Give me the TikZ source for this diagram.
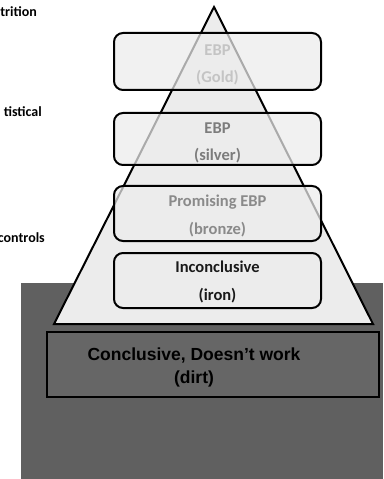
\documentclass[tikz,border=0pt]{standalone}
\usepackage{fontspec}
\setmainfont{Carlito}
\newfontfamily\arialfont{Liberation Sans}
\definecolor{bgdark}{HTML}{606060}
\definecolor{dirtfill}{HTML}{666666}
\definecolor{pyrfill}{HTML}{ECECEC}
\definecolor{goldtxt}{HTML}{C4C4C4}
\definecolor{silvertxt}{HTML}{7C7C7C}
\definecolor{bronzetxt}{HTML}{8A8A8A}
\definecolor{irontxt}{HTML}{1A1A1A}
\tikzset{
  tier/.style={draw=black, line width=2bp, rounded corners=9bp, fill=pyrfill,
    fill opacity=0.72, draw opacity=1, inner sep=0pt,
    minimum width=207bp, minimum height=#1},
  tiertext/.style={align=center, inner sep=0pt,
    font=\fontsize{16.5bp}{27.5bp}\selectfont\bfseries},
  sidelabel/.style={anchor=base east, inner sep=0pt,
    font=\fontsize{14bp}{16bp}\selectfont\bfseries},
  dirtbox/.style={draw=black, line width=2.5bp, fill=dirtfill, inner sep=0pt,
    minimum width=332bp, minimum height=65bp},
  dirttext/.style={align=center, inner sep=0pt, text=black,
    font=\arialfont\fontsize{17.5bp}{23bp}\selectfont\bfseries}
}
\begin{document}
\begin{tikzpicture}[x=1bp,y=-1bp]
\useasboundingbox (0,0) rectangle (383,479);
\clip (0,0) rectangle (383,479);
% dark ground
\fill[bgdark] (21,283) rectangle (383,479);
% pyramid
\coordinate (apex) at (214,7);
\coordinate (bl) at (54,324);
\coordinate (br) at (373,324);
\draw[line width=2bp, fill=pyrfill, line join=miter] (apex) -- (br) -- (bl) -- cycle;
% tiers
\node[tier=57bp] (gold) at (217.5,61.5) {};
\node[tier=52bp] (silver) at (217.5,139) {};
\node[tier=55bp] (bronze) at (217.5,213.5) {};
\node[tier=55bp] (iron) at (217.5,280.5) {};
\node[tiertext, text=goldtxt] (goldt) at (217.5,65) {EBP\\(Gold)};
\node[tiertext, text=silvertxt] (silvert) at (217.5,143) {EBP\\(silver)};
\node[tiertext, text=bronzetxt] (bronzet) at (217.5,216) {Promising EBP\\(bronze)};
\node[tiertext, text=irontxt] (iront) at (217.5,282) {Inconclusive\\(iron)};
% dirt
\node[dirtbox] (dirt) at (213,364.5) {};
\node[dirttext] (dirtlabel) at (194,367) {Conclusive, Doesn’t work\\(dirt)};
% left cut-off labels
\node[sidelabel] (l1) at (37,17) {trition};
\node[sidelabel] (l2) at (42,117) {tistical};
\node[sidelabel] (l3) at (45,242) {controls};
\end{tikzpicture}
\end{document}
